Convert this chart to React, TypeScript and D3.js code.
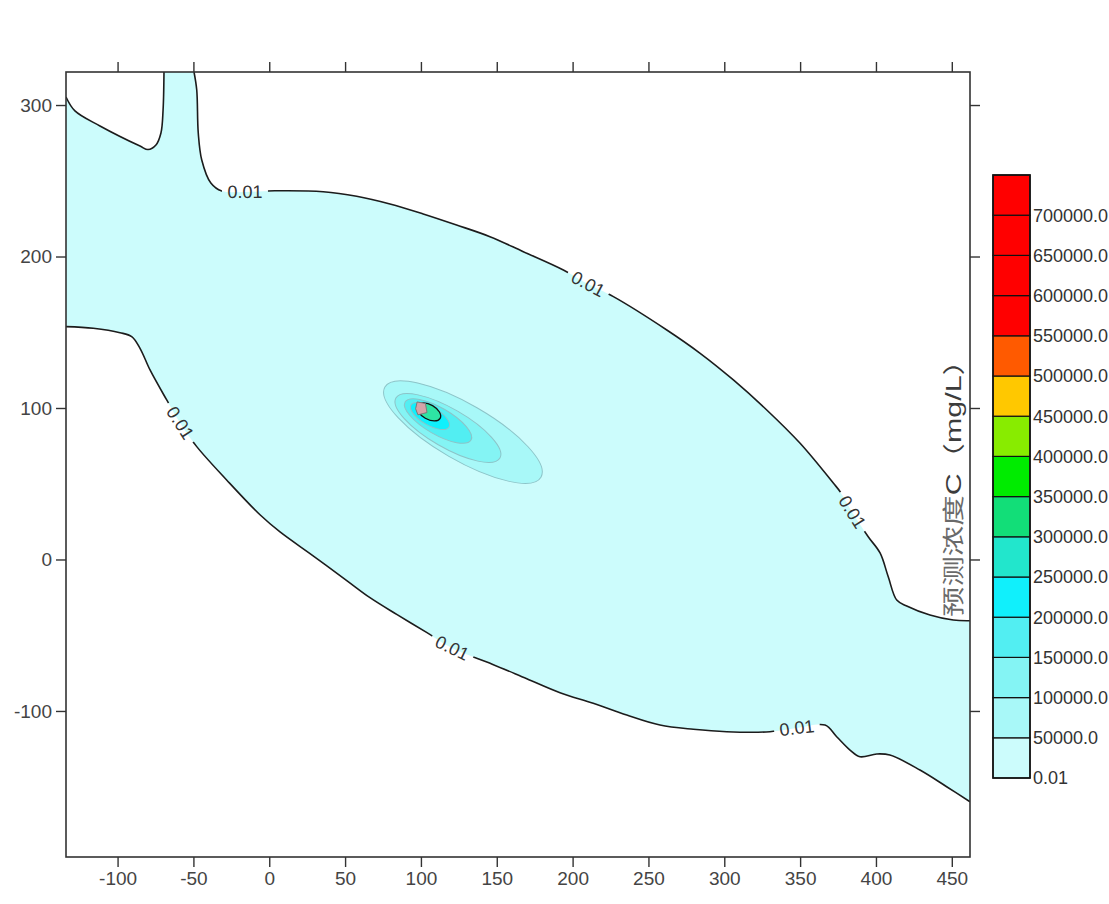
import React, { useEffect, useRef } from "react";
import * as d3 from "d3";

// ---------- data ----------
const xTicks = [-100, -50, 0, 50, 100, 150, 200, 250, 300, 350, 400, 450];
const yTicks = [-100, 0, 100, 200, 300];
const xDomain = [-134, 462];
const yDomain = [-196.4, 321.8];

// 0.01 mg/L contour: small lobe at top-left (left edge -> top edge)
const contourLobe: [number, number][] = [
  [-134, 305.3], [-128.1, 296.1], [-111.6, 286.2], [-85.2, 272.9], [-79.9, 270.6],
  [-74.7, 273.6], [-71.4, 281.5], [-70.0, 296.7], [-69.4, 321.8],
];
// 0.01 mg/L contour: upper boundary (top edge -> right edge)
const contourUpper: [number, number][] = [
  [-49.6, 321.8], [-47.8, 309.9], [-46.8, 281.5], [-44.5, 263.7], [-38.5, 248.5],
  [-31.3, 243.2], [-16, 242.6], [3.6, 243.4], [35.6, 242.8], [57.6, 239.8], [79.6, 234.7],
  [101.5, 228.1], [123.5, 220.8], [145.5, 213.1], [167.5, 203.2], [193.9, 191.1],
  [210.1, 181.8], [226.9, 173.5], [262.1, 151.5], [284.1, 136.1], [306.0, 118.5],
  [328.0, 98.7], [350.0, 76.7], [372.0, 50.3], [376.4, 44.7], [384.2, 31.3], [394.9, 15.0],
  [402.7, 4.3], [408.1, -11.4], [413.7, -26.8], [420.3, -30.7], [435.6, -36.7],
  [451.0, -40.0], [462, -40.4],
];
// 0.01 mg/L contour: lower boundary (right edge -> left edge)
const contourLower: [number, number][] = [
  [462, -159.9], [446.6, -150.0], [429.0, -139.0], [409.2, -129.1], [400.5, -128.4],
  [389.5, -130.2], [382.9, -125.8], [374.1, -117.0], [366.4, -109.3], [347.9, -111.3],
  [330.1, -113.7], [301.6, -113.7], [279.6, -112.1], [257.6, -109.3], [235.7, -102.7],
  [213.6, -94.9], [191.7, -87.9], [169.8, -78.7], [147.0, -69.1], [120.5, -58.5],
  [104.0, -48.3], [84.3, -36.4], [66.4, -25.2], [51.1, -13.9], [28.7, 2.6],
  [7.1, 18.2], [-6.1, 29.5], [-28.1, 52.5], [-47.8, 74.5], [-58.8, 90.1], [-67.6, 105.3],
  [-78.6, 125.1], [-85.2, 139.4], [-90.7, 147.1], [-98.4, 149.7], [-116.0, 152.6],
  [-134, 153.7],
];
// label anchors on the 0.01 contour
const contourLabelX = [-16, 210.1, 384.2, 347.9, 120.5, -58.8];
const contourLabelY = [242.6, 181.8, 31.3, -111.3, -58.5, 90.1];

// inner plume contours (levels 50000..250000), elliptical
const plumeLevels = [50000, 100000, 150000, 200000, 250000];
const plumeCx = [127.7, 117.8, 111.3, 106.0, 105.3];
const plumeCy = [84.1, 86.8, 91.4, 94.7, 97.4];
const plumeRx = [59.4, 39.6, 25.1, 14.5, 8.5];
const plumeRy = [18.5, 12.8, 8.8, 6.0, 4.8];
const plumeTilt = -30; // degrees (data space)

// source cell
const sourceCell: [number, number][] = [[97.5, 104], [103, 103], [104, 97], [98, 95.5], [96.5, 99.5]];

// colour bar
const cbLevels = [0.01, 50000, 100000, 150000, 200000, 250000, 300000, 350000, 400000, 450000, 500000, 550000, 600000, 650000, 700000, 750000];
const cbColors = [
  "#ccfcfc", "#a8f8f8", "#84f4f4", "#52eef2", "#10f0fc", "#22e6cc", "#12de78",
  "#00ec00", "#88ec00", "#ffc800", "#ff5a00", "#ff0000", "#ff0000", "#ff0000", "#ff0000",
];

const FONT = "'Liberation Sans', Arial, 'Noto Sans CJK SC', sans-serif";

export default function App() {
  const W = 1109, H = 904;
  const L = 66, R = 970, T = 72, B = 857;
  const x = d3.scaleLinear().domain(xDomain).range([L, R]);
  const y = d3.scaleLinear().domain(yDomain).range([B, T]);
  const unit = x(1) - x(0);

  const gB = useRef<SVGGElement>(null);
  const gL = useRef<SVGGElement>(null);
  const gT = useRef<SVGGElement>(null);
  const gR = useRef<SVGGElement>(null);

  useEffect(() => {
    const style = (g: any) => {
      g.select(".domain").remove();
      g.selectAll(".tick line").attr("stroke", "#333").attr("stroke-width", 1.4);
      g.selectAll(".tick text").attr("fill", "#444").attr("font-size", 19).attr("font-family", FONT);
    };
    const fmt = (d: any) => String(d);
    d3.select(gB.current!).call(d3.axisBottom(x).tickValues(xTicks).tickSize(10).tickPadding(5).tickFormat(fmt) as any).call(style);
    d3.select(gL.current!).call(d3.axisLeft(y).tickValues(yTicks).tickSize(10).tickPadding(4).tickFormat(fmt) as any).call(style);
    d3.select(gT.current!).call(d3.axisTop(x).tickValues(xTicks).tickSize(10).tickFormat(() => "") as any).call(style);
    d3.select(gR.current!).call(d3.axisRight(y).tickValues(yTicks).tickSize(10).tickFormat(() => "") as any).call(style);
  }, []);

  const line = d3.line<[number, number]>().x(d => x(d[0])).y(d => y(d[1])).curve(d3.curveCatmullRom.alpha(0.5));
  const pLobe = line(contourLobe)!;
  const pUpper = line(contourUpper)!;
  const pLower = line(contourLower)!;
  const fillPath = pLobe + pUpper.replace(/^M/, "L") + pLower.replace(/^M/, "L") + "Z";

  // label angles from nearby contour direction
  const allLines = [contourUpper, contourLower, contourLobe].map(a => a.map(p => [x(p[0]), y(p[1])] as [number, number]));
  const labels = contourLabelX.map((lx, k) => {
    const px = x(lx), py = y(contourLabelY[k]);
    let best = { d: Infinity, ang: 0 };
    allLines.forEach(pts => {
      pts.forEach((p, i) => {
        const d = Math.hypot(p[0] - px, p[1] - py);
        if (d < best.d) {
          const a = pts[Math.max(0, i - 1)], b = pts[Math.min(pts.length - 1, i + 1)];
          let ang = Math.atan2(b[1] - a[1], b[0] - a[0]) * 180 / Math.PI;
          if (ang > 90) ang -= 180;
          if (ang < -90) ang += 180;
          best = { d, ang };
        }
      });
    });
    return { px, py, ang: best.ang };
  });

  const cbY = d3.scaleLinear().domain([0, 750000]).range([778, 175]);
  const cbX0 = 993, cbX1 = 1030;

  return (
    <svg width={W} height={H} style={{ position: "absolute", left: 0, top: 0, background: "#fff" }} fontFamily={FONT}>
      <defs>
        <clipPath id="plotClip"><rect x={L} y={T} width={R - L} height={B - T} /></clipPath>
        <mask id="labelMask" maskUnits="userSpaceOnUse" x={0} y={0} width={W} height={H}>
          <rect x={0} y={0} width={W} height={H} fill="#fff" />
          {labels.map((l, i) => (
            <rect key={i} x={-23} y={-9} width={46} height={18} fill="#000"
              transform={`translate(${l.px},${l.py}) rotate(${l.ang})`} />
          ))}
        </mask>
      </defs>

      <g clipPath="url(#plotClip)">
        <path d={fillPath} fill={cbColors[0]} stroke="none" />
        {plumeLevels.map((lv, i) => (
          <ellipse key={lv}
            cx={0} cy={0} rx={plumeRx[i] * unit} ry={plumeRy[i] * unit}
            transform={`translate(${x(plumeCx[i])},${y(plumeCy[i])}) rotate(${-plumeTilt})`}
            fill={i === plumeLevels.length - 1 ? "#2ee4a4" : cbColors[i + 1]}
            stroke={i === plumeLevels.length - 1 ? "#111" : "#8cc4c8"}
            strokeWidth={i === plumeLevels.length - 1 ? 1.3 : 1} />
        ))}
        <path d={d3.line<[number, number]>().x(d => x(d[0])).y(d => y(d[1]))(sourceCell)! + "Z"}
          fill="#d4a4a8" stroke="#7a7a7a" strokeWidth={1} />
        <g mask="url(#labelMask)" fill="none" stroke="#1c1c1c" strokeWidth={1.6}>
          <path d={pLobe} />
          <path d={pUpper} />
          <path d={pLower} />
        </g>
        {labels.map((l, i) => (
          <text key={i} transform={`translate(${l.px},${l.py}) rotate(${l.ang})`}
            textAnchor="middle" dominantBaseline="central" fontSize={18} fill="#333">0.01</text>
        ))}
      </g>

      <rect x={L} y={T} width={R - L} height={B - T} fill="none" stroke="#333" strokeWidth={1.6} />
      <g ref={gB} transform={`translate(0,${B})`} />
      <g ref={gL} transform={`translate(${L},0)`} />
      <g ref={gT} transform={`translate(0,${T})`} />
      <g ref={gR} transform={`translate(${R},0)`} />

      {/* colour bar */}
      {cbColors.map((c, i) => (
        <rect key={i} x={cbX0} y={cbY(cbLevels[i + 1])} width={cbX1 - cbX0}
          height={cbY(cbLevels[i]) - cbY(cbLevels[i + 1])} fill={c} stroke="#111" strokeWidth={1.2} />
      ))}
      <rect x={cbX0} y={cbY(750000)} width={cbX1 - cbX0} height={cbY(0) - cbY(750000)} fill="none" stroke="#111" strokeWidth={1.6} />
      {cbLevels.slice(0, 15).map((v, i) => (
        <text key={i} x={1033} y={cbY(v)} dy="0.35em" fontSize={18} fill="#333">
          {v === 0.01 ? "0.01" : v.toFixed(1)}
        </text>
      ))}
      <text transform="translate(961,481) rotate(-90)" textAnchor="middle" fontSize={22}
        textLength={272} lengthAdjust="spacingAndGlyphs">
        <tspan fill="#6a6a6a">预测浓度</tspan>
        <tspan fill="#3c3c3c">C（mg/L）</tspan>
      </text>
    </svg>
  );
}
